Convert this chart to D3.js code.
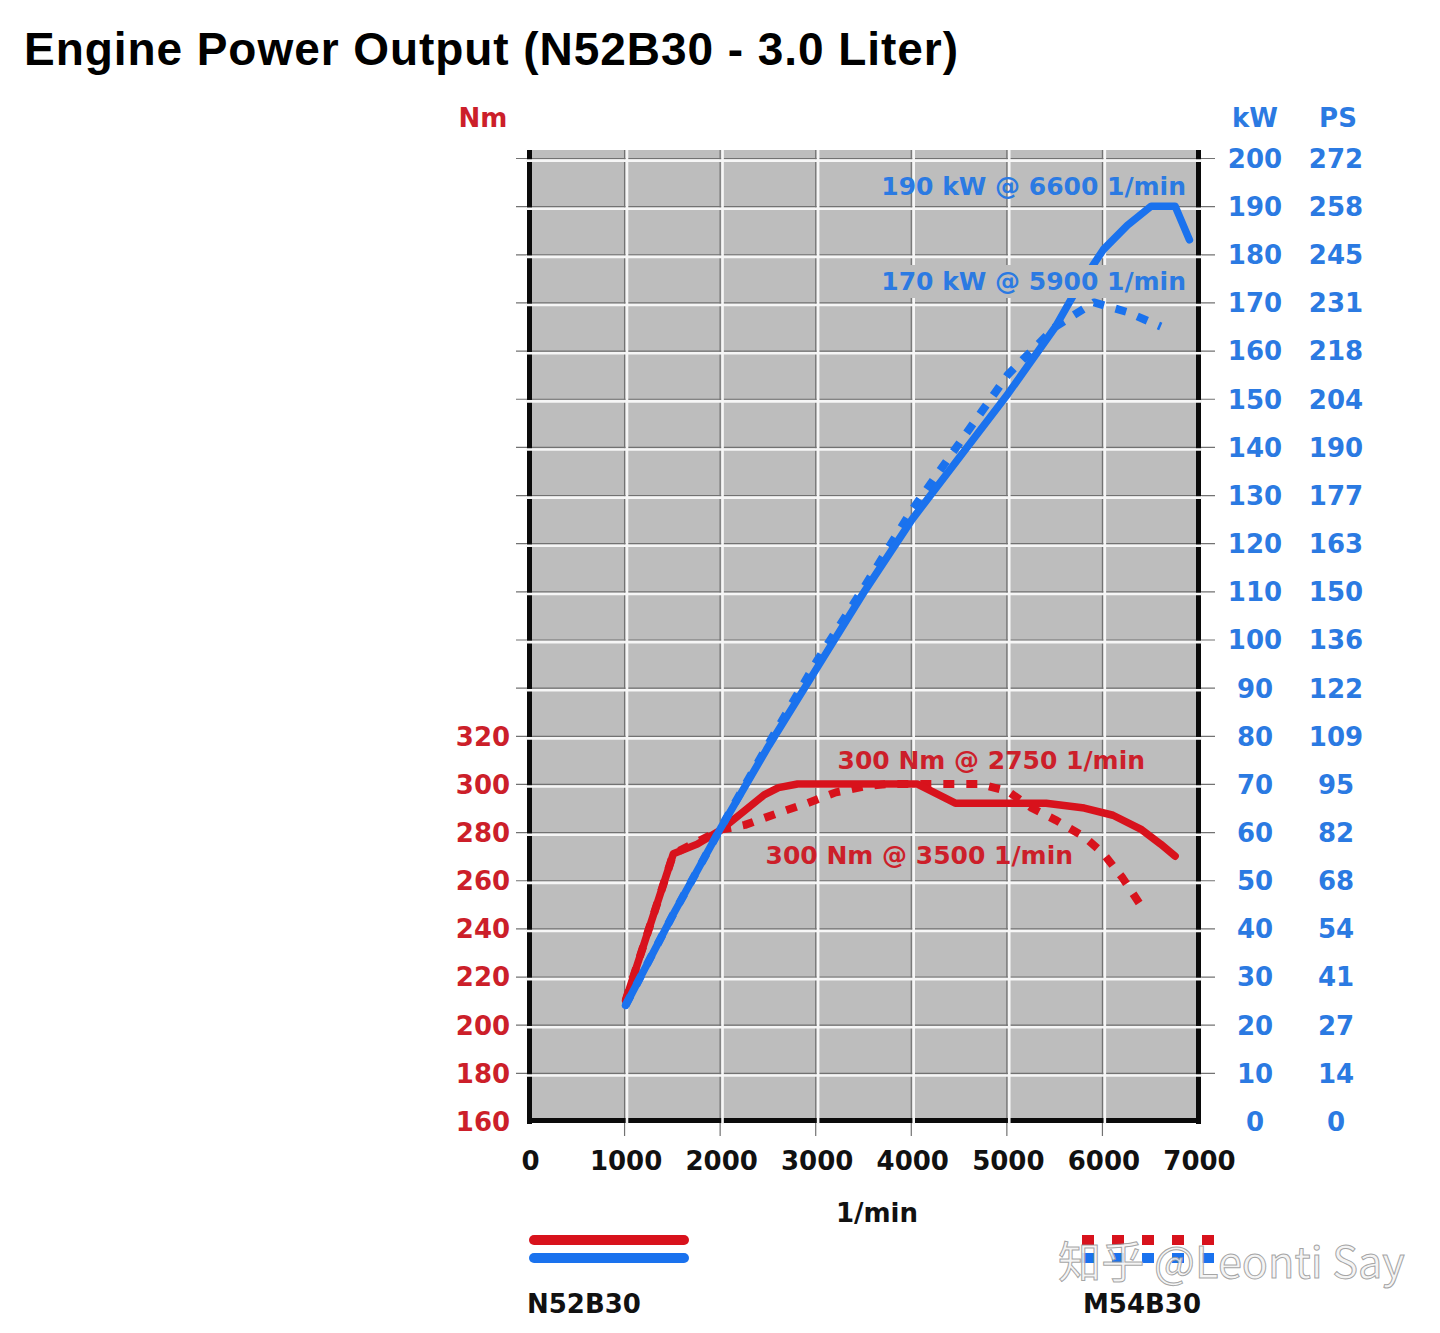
<!DOCTYPE html>
<html lang="en">
<head>
    <meta charset="UTF-8">
    <title>Engine Power Output</title>
    <script src="https://d3js.org/d3.v7.min.js"></script>
    <style>
        body { margin: 0; background: white; }
        svg { display: block; }
    </style>
</head>
<body>
    <svg></svg>
    <script>
        // Axis ticks and labels
        var rpmTicks = [0, 1000, 2000, 3000, 4000, 5000, 6000, 7000];
        var kwTicks = [0, 10, 20, 30, 40, 50, 60, 70, 80, 90, 100, 110, 120, 130, 140, 150, 160, 170, 180, 190, 200];
        var psLabels = ["0", "14", "27", "41", "54", "68", "82", "95", "109", "122", "136", "150", "163", "177", "190", "204", "218", "231", "245", "258", "272"];
        var nmTicks = [160, 180, 200, 220, 240, 260, 280, 300, 320];

        // Curves: [rpm, value]
        var n52Power = [[1000, 24], [1500, 43], [2000, 61], [2500, 78], [3000, 94], [3500, 110], [4000, 125], [4500, 138],
            [5000, 151], [5500, 165], [5700, 172], [6000, 181], [6250, 186], [6500, 190], [6750, 190], [6900, 183]];
        var m54Power = [[1000, 24], [1500, 43], [2000, 61], [2500, 78.5], [3000, 95.5], [3500, 111], [4000, 127], [4500, 141],
            [5000, 155], [5500, 165], [5900, 170], [6250, 168], [6600, 165]];
        var n52Torque = [[1000, 210], [1500, 271], [1750, 275], [2000, 281], [2250, 289], [2450, 295.5], [2600, 298.5], [2800, 300],
            [4050, 300], [4450, 292], [5400, 292], [5800, 290], [6100, 287], [6400, 281], [6600, 275], [6750, 270]];
        var m54Torque = [[1000, 210], [1500, 271], [2000, 281], [2250, 283], [2600, 288], [2900, 292], [3200, 296.5], [3500, 299],
            [3750, 300], [4700, 300], [5000, 297], [5250, 290], [5500, 285], [5800, 278], [6000, 271], [6200, 261], [6400, 249]];

        var annotations = ["190 kW @ 6600 1/min", "170 kW @ 5900 1/min", "300 Nm @ 2750 1/min", "300 Nm @ 3500 1/min"];
        var legendNames = ["N52B30", "M54B30"];

        var red = "#d8121c", blue = "#1a72ee";
        var redText = "#cc1f2a", blueText = "#2b7ae2";
        var plotBg = "#bdbdbd";
        var font = "'DejaVu Sans', sans-serif";

        var svg = d3.select("svg").attr("width", 1440).attr("height", 1333);

        // scales: Nm axis is tied to kW axis (Nm = 160 + 2 * kW)
        var x = d3.scaleLinear().domain([0, 7000]).range([530, 1199]);
        var yKW = d3.scaleLinear().domain([0, 200]).range([1121, 158]);
        var yNm = d3.scaleLinear().domain([160, 560]).range([1121, 158]);
        var plotTop = 150;
        var x0 = x(0), x1 = x(7000), yb = yKW(0);

        // title, fitted to the reference width
        var title = svg.append("text")
            .attr("x", 24).attr("y", 65)
            .attr("font-family", "'Liberation Sans', Arial, sans-serif")
            .attr("font-weight", "bold").attr("font-size", 46)
            .attr("fill", "#000")
            .text("Engine Power Output (N52B30 - 3.0 Liter)");
        var tw = title.node().getComputedTextLength();
        var nChars = title.text().length;
        title.attr("letter-spacing", (934 - tw) / (nChars - 1));

        // plot background
        svg.append("rect")
            .attr("x", x0).attr("y", plotTop)
            .attr("width", x1 - x0).attr("height", yb - plotTop)
            .attr("fill", plotBg);

        var grid = svg.append("g");
        var hLines = kwTicks.filter(d => d > 0);
        var vLines = rpmTicks.filter(d => d > 0 && d < 7000);

        // dark part of the grid + outside ticks
        grid.selectAll(".hdark").data(hLines).enter().append("line")
            .attr("x1", x0 - 14).attr("x2", x1 + 16)
            .attr("y1", d => yKW(d) + 0.5).attr("y2", d => yKW(d) + 0.5)
            .attr("stroke", "#727272").attr("stroke-width", 1.2);
        grid.selectAll(".vdark").data(vLines).enter().append("line")
            .attr("x1", d => x(d) - 1).attr("x2", d => x(d) - 1)
            .attr("y1", plotTop).attr("y2", yb + 15)
            .attr("stroke", "#727272").attr("stroke-width", 1.2);

        // black frame (left, right, bottom)
        grid.append("rect").attr("x", x0 - 3).attr("y", plotTop).attr("width", 5).attr("height", yb - plotTop + 3).attr("fill", "#0a0a0a");
        grid.append("rect").attr("x", x1 - 3).attr("y", plotTop).attr("width", 5).attr("height", yb - plotTop + 3).attr("fill", "#0a0a0a");
        grid.append("rect").attr("x", x0 - 3).attr("y", yb - 3).attr("width", x1 - x0 + 5).attr("height", 5).attr("fill", "#0a0a0a");

        // white part of the grid, cutting through the frame
        grid.selectAll(".hwhite").data(hLines).enter().append("line")
            .attr("x1", x0 - 4).attr("x2", x1 + 3)
            .attr("y1", d => yKW(d) + 2.6).attr("y2", d => yKW(d) + 2.6)
            .attr("stroke", "#f6f6f6").attr("stroke-width", 2.6);
        grid.selectAll(".vwhite").data(vLines).enter().append("line")
            .attr("x1", d => x(d) + 1.4).attr("x2", d => x(d) + 1.4)
            .attr("y1", plotTop).attr("y2", yb + 3)
            .attr("stroke", "#f6f6f6").attr("stroke-width", 2.6);

        // curves
        var kwLine = d3.line().x(d => x(d[0])).y(d => yKW(d[1]));
        var nmLine = d3.line().x(d => x(d[0])).y(d => yNm(d[1]));

        var curves = svg.append("g").attr("fill", "none").attr("stroke-linejoin", "round");
        curves.append("path").attr("d", nmLine(m54Torque))
            .attr("stroke", red).attr("stroke-width", 8).attr("stroke-dasharray", "11,12");
        curves.append("path").attr("d", nmLine(n52Torque))
            .attr("stroke", red).attr("stroke-width", 7.5).attr("stroke-linecap", "round");
        curves.append("path").attr("d", kwLine(m54Power))
            .attr("stroke", blue).attr("stroke-width", 8).attr("stroke-dasharray", "11,12");
        curves.append("path").attr("d", kwLine(n52Power))
            .attr("stroke", blue).attr("stroke-width", 7.5).attr("stroke-linecap", "round");

        // annotations
        var annPos = [
            {x: 1186, y: 195, c: blueText, box: false},
            {x: 1186, y: 290, c: blueText, box: true},
            {x: 1145, y: 769, c: redText, box: false},
            {x: 1073, y: 864, c: redText, box: false}
        ];
        annotations.forEach(function(t, i) {
            var p = annPos[i];
            var g = svg.append("g");
            var txt = g.append("text")
                .attr("x", p.x).attr("y", p.y)
                .attr("text-anchor", "end")
                .attr("font-family", font).attr("font-weight", "bold").attr("font-size", 25)
                .attr("fill", p.c)
                .text(t);
            if (p.box) {
                var bb = txt.node().getBBox();
                g.insert("rect", "text")
                    .attr("x", bb.x - 2).attr("y", bb.y - 2)
                    .attr("width", bb.width + 4).attr("height", bb.height + 4)
                    .attr("fill", plotBg);
            }
        });

        function styleAxis(g, color) {
            g.attr("font-family", font).attr("font-weight", "bold").attr("font-size", 26);
            g.select(".domain").remove();
            g.selectAll("text").attr("fill", color).attr("x", 0).attr("dy", "0.36em").attr("text-anchor", "middle");
        }

        // left Nm axis
        svg.append("g").attr("transform", "translate(483,0)")
            .call(d3.axisLeft(yNm).tickValues(nmTicks).tickSize(0).tickPadding(0))
            .call(g => styleAxis(g, redText));

        // right kW and PS axes
        svg.append("g").attr("transform", "translate(1255,0)")
            .call(d3.axisRight(yKW).tickValues(kwTicks).tickSize(0).tickPadding(0))
            .call(g => styleAxis(g, blueText));
        svg.append("g").attr("transform", "translate(1336,0)")
            .call(d3.axisRight(yKW).tickValues(kwTicks).tickSize(0).tickPadding(0).tickFormat((d, i) => psLabels[i]))
            .call(g => styleAxis(g, blueText));

        // bottom rpm axis
        svg.append("g").attr("transform", "translate(0,1161)")
            .call(d3.axisBottom(x).tickValues(rpmTicks).tickSize(0).tickPadding(0).tickFormat(d3.format("d")))
            .call(function(g) {
                styleAxis(g, "#111");
                g.selectAll("text").attr("y", 0);
            });

        // unit labels
        var units = [
            {t: "Nm", x: 483, y: 118, c: redText},
            {t: "kW", x: 1255, y: 118, c: blueText},
            {t: "PS", x: 1338, y: 118, c: blueText},
            {t: "1/min", x: 877, y: 1213, c: "#111"}
        ];
        svg.selectAll(".unit").data(units).enter().append("text")
            .attr("x", d => d.x).attr("y", d => d.y).attr("dy", "0.36em")
            .attr("text-anchor", "middle")
            .attr("font-family", font).attr("font-weight", "bold").attr("font-size", 26)
            .attr("fill", d => d.c)
            .text(d => d.t);

        // legend
        var legend = svg.append("g").attr("fill", "none");
        legend.append("line").attr("x1", 534).attr("x2", 684).attr("y1", 1240).attr("y2", 1240)
            .attr("stroke", red).attr("stroke-width", 10).attr("stroke-linecap", "round");
        legend.append("line").attr("x1", 534).attr("x2", 684).attr("y1", 1258).attr("y2", 1258)
            .attr("stroke", blue).attr("stroke-width", 10).attr("stroke-linecap", "round");
        legend.append("line").attr("x1", 1082).attr("x2", 1214).attr("y1", 1240).attr("y2", 1240)
            .attr("stroke", red).attr("stroke-width", 10).attr("stroke-dasharray", "12,18");
        legend.append("line").attr("x1", 1082).attr("x2", 1214).attr("y1", 1258).attr("y2", 1258)
            .attr("stroke", blue).attr("stroke-width", 10).attr("stroke-dasharray", "12,18");

        svg.selectAll(".lname").data(legendNames).enter().append("text")
            .attr("x", (d, i) => i === 0 ? 527 : 1083).attr("y", 1313)
            .attr("font-family", font).attr("font-weight", "bold").attr("font-size", 26)
            .attr("fill", "#111")
            .text(d => d);

        // watermark
        var wm = svg.append("text")
            .attr("x", 1058).attr("y", 1278)
            .attr("font-family", "'Noto Sans CJK SC', sans-serif").attr("font-size", 40)
            .attr("fill", "#f2f2f2").attr("fill-opacity", 0.85)
            .attr("stroke", "#8f8f8f").attr("stroke-width", 1).attr("stroke-opacity", 0.8)
            .text("知乎 @Leonti Say");
        var ww = wm.node().getComputedTextLength();
        wm.attr("font-size", 40 * 347 / ww);
    </script>
</body>
</html>
